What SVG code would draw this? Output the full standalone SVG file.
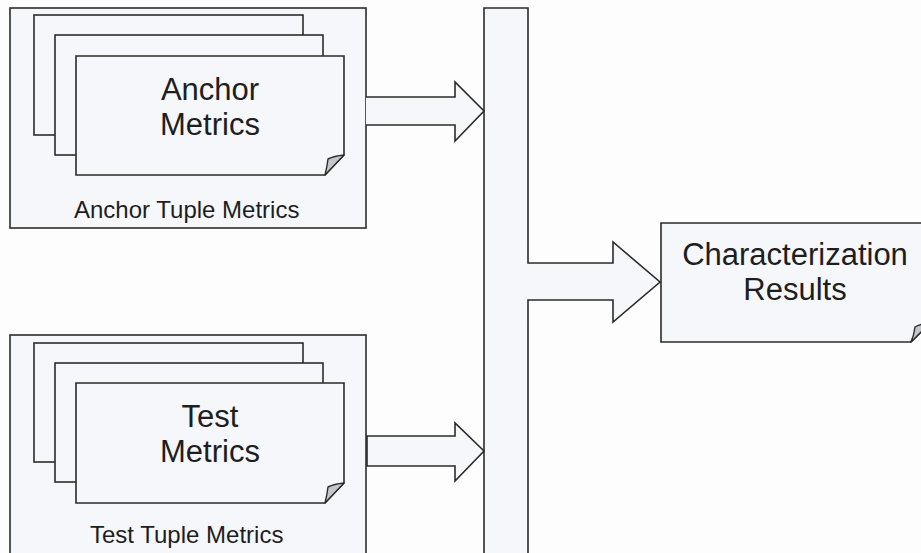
<svg xmlns="http://www.w3.org/2000/svg" width="921" height="553" viewBox="0 0 921 553">
<style>
.box{fill:#f5f7fb;stroke:#2b2b2b;stroke-width:1.6}
.fold{fill:#c4c6c9;stroke:#2b2b2b;stroke-width:1.4;stroke-linejoin:round}
.big{font-family:"Liberation Sans",Arial,sans-serif;font-size:31px;fill:#1e1e1e;text-anchor:middle}
.small{font-family:"Liberation Sans",Arial,sans-serif;font-size:24px;fill:#1e1e1e}
</style>
<rect width="921" height="553" fill="#fdfdfe"/>
<g id="anchor-group">
<rect class="box" x="10" y="8" width="356" height="220"/>
<rect class="box" x="34" y="15" width="269" height="120"/>
<rect class="box" x="55" y="35" width="268" height="120"/>
<path class="box" d="M76,56 H344 V155 L325,175 H76 Z"/>
<path class="fold" d="M325,175 L344,155 Q334,156 328,159 Q327,167 325,175 Z"/>
<text class="big" x="210" y="100">Anchor</text>
<text class="big" x="210" y="135">Metrics</text>
<text class="small" x="74" y="218">Anchor Tuple Metrics</text>
</g>
<g id="test-group">
<rect class="box" x="10" y="335" width="356" height="230"/>
<rect class="box" x="34" y="343" width="269" height="119"/>
<rect class="box" x="55" y="363" width="268" height="119"/>
<path class="box" d="M76,383 H344 V483 L325,503 H76 Z"/>
<path class="fold" d="M325,503 L344,483 Q334,484 328,487 Q327,495 325,503 Z"/>
<text class="big" x="210" y="427">Test</text>
<text class="big" x="210" y="462">Metrics</text>
<text class="small" x="90" y="543">Test Tuple Metrics</text>
</g>
<g id="results">
<path class="box" d="M661,223 H930 V323 L911,342 H661 Z"/>
<path class="fold" d="M911,342 L930,323 Q920,324 915,327 Q914,335 911,342 Z"/>
<text class="big" x="795" y="265">Characterization</text>
<text class="big" x="795" y="300">Results</text>
</g>
<g id="connectors">
<path class="box" d="M484,8 H528 V263 H613 V242 L660,282 L613,322 V300 H528 V565 H484 Z"/>
<path class="box" d="M366,97 H455 V82 L484,111 L455,141 V125 H366"/>
<path class="box" d="M367,436 H455 V423 L484,451 L455,481 V466 H367 Z"/>
</g>
</svg>
